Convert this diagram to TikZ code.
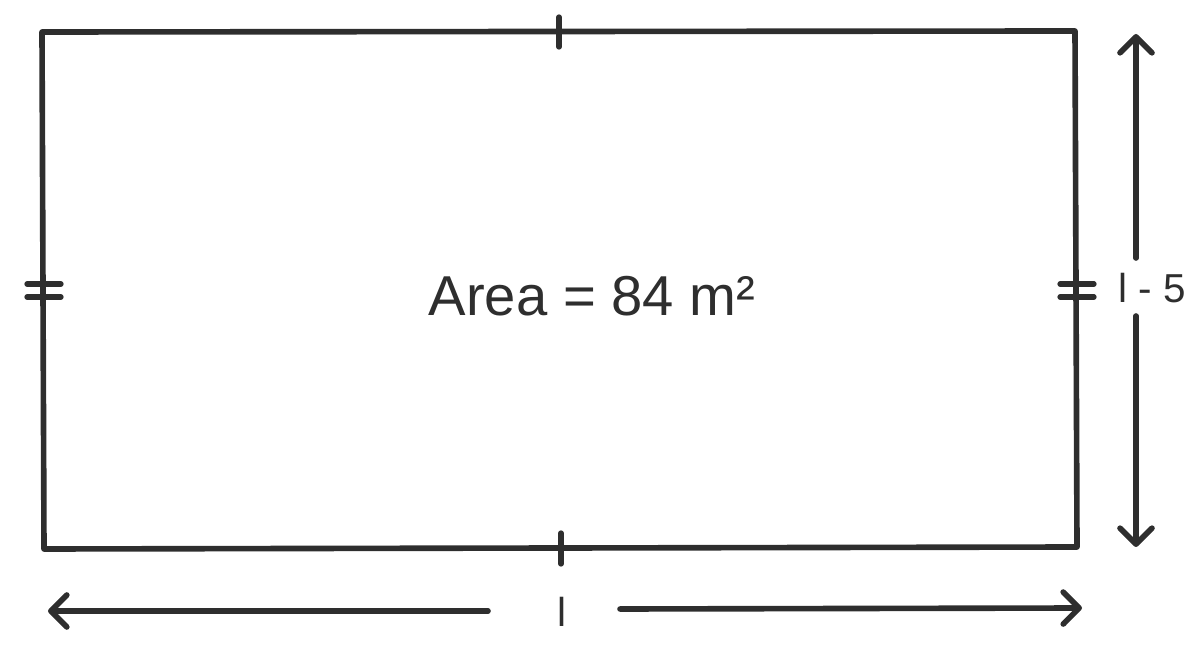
\documentclass[tikz,border=0pt]{standalone}
\usepackage{fontspec}
\setmainfont{Liberation Sans}
\usetikzlibrary{arrows.meta}
\definecolor{ink}{HTML}{2E2E2E}
\tikzset{
  edge/.style={draw=ink, line width=3.2pt, line cap=round, line join=round},
  tick/.style={draw=ink, line width=3pt, line cap=round},
  barb/.tip={Straight Barb[round,length=3.2mm,width=6.4mm]},
  dimhalf/.style={draw=ink, line width=3.2pt, line cap=round},
  lbl/.style={text=ink, inner sep=0pt, font=\fontsize{23}{26}\selectfont}
}
\begin{document}
\begin{tikzpicture}[x=0.02cm, y=-0.02cm]
  \useasboundingbox (0,0) rectangle (1200,651);
  % corners
  \coordinate (tl) at (42,32);
  \coordinate (tr) at (1075,31);
  \coordinate (br) at (1077,547);
  \coordinate (bl) at (44,549);
  \draw[edge] (tl) -- (tr) -- (br) -- (bl) -- cycle;
  % equal marks
  \draw[tick] (559,17) -- (559,47);
  \draw[tick] (561,533) -- (561,564);
  \draw[tick] (27,284) -- (61,284);
  \draw[tick] (27,297) -- (61,297);
  \draw[tick] (1060,284) -- (1094,284);
  \draw[tick] (1060,297) -- (1094,297);
  % area
  \node[lbl, font=\fontsize{32}{37}\selectfont] (area) at (592,296) {Area = 84 m²};
  % width
  \node[lbl] (w) at (562,612) {l};
  \coordinate (wl) at (48,611);
  \coordinate (wr) at (1082,608);
  \draw[dimhalf, barb-] (wl) -- (488,611);
  \draw[dimhalf, -barb] (620,609) -- (wr);
  % height
  \node[lbl] (h) at (1152,288) {l - 5};
  \coordinate (ht) at (1136,34);
  \coordinate (hb) at (1136,547);
  \draw[dimhalf, barb-] (ht) -- (1136,258);
  \draw[dimhalf, -barb] (1136,316) -- (hb);
\end{tikzpicture}
\end{document}
